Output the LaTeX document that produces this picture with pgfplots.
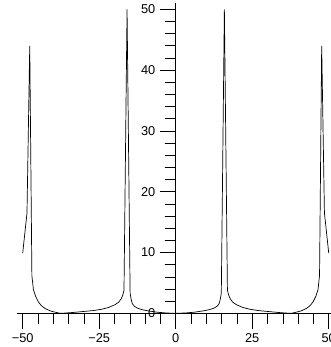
\documentclass[border=0pt]{standalone}
\usepackage{fontspec}
\setmainfont{Liberation Sans}
\usepackage{pgfplots}
\pgfplotsset{compat=1.18}
\begin{document}
\fontsize{12.8}{15}\selectfont
\begin{tikzpicture}
\begin{axis}[
  x=3.06pt, y=6.08pt,
  axis lines=middle,
  xmin=-52, xmax=52, ymin=0, ymax=51,
  xtick={-50,-25,0,25,50},
  xticklabels={−50,−25,0,25,50},
  minor xtick={-45,-40,-35,-30,-20,-15,-10,-5,5,10,15,20,30,35,40,45},
  ytick={0,10,20,30,40,50},
  yticklabels={0,10,20,30,40,50},
  minor ytick={2,4,6,8,12,14,16,18,22,24,26,28,32,34,36,38,42,44,46,48},
  hide obscured x ticks=false,
  hide obscured y ticks=false,
  tick align=outside,
  major tick length=16pt,
  minor tick length=11pt,
  tick style={black, line width=0.6pt},
  axis line style={black, line width=0.6pt, -},
  /pgf/number format/assume math mode=true,
  ticklabel style={font=\fontsize{12.8}{15}\selectfont},
  clip=false,
]
\addplot[black, line width=0.7pt] coordinates {
(-50,9.9) (-48.6,16.5) (-47.7,44) (-47.0,6.2) (-46.5,3.9) (-45.8,2.8) (-44.9,1.9) (-44,1.3)
(-42.7,0.8) (-41,0.4) (-39.5,0.2) (-38,0.02) (-36.5,0.03) (-34,0.12) (-30.8,0.27) (-27,0.45)
(-24.3,0.66) (-22,0.95) (-19.9,1.4) (-18.6,1.85) (-17.8,2.4) (-17.3,3.0) (-16.9,3.8) (-15.9,50)
(-14.9,3.3) (-14.6,2.4) (-14.2,1.6) (-13.5,1.15) (-12.5,0.85) (-11,0.6) (-9,0.4) (-6,0.18) (-3,0.05)
(0,0)
(3,0.05) (6,0.18) (9,0.4) (11,0.6) (12.5,0.85) (13.5,1.15) (14.2,1.6) (14.6,2.4) (14.9,3.3)
(15.9,50) (16.9,3.8) (17.3,3.0) (17.8,2.4) (18.6,1.85) (19.9,1.4) (22,0.95) (24.3,0.66) (27,0.45)
(30.8,0.27) (34,0.12) (36.5,0.03) (38,0.02) (39.5,0.2) (41,0.4) (42.7,0.8) (44,1.3) (44.9,1.9)
(45.8,2.8) (46.5,3.9) (47.0,6.2) (47.7,44) (48.6,16.5) (50,9.9)
};
\coordinate (bbsw) at (axis cs:-57.42,-5.54);
\coordinate (bbne) at (axis cs:50.42,51.53);
\end{axis}
\pgfresetboundingbox
\useasboundingbox (bbsw) rectangle (bbne);
\end{tikzpicture}
\end{document}
